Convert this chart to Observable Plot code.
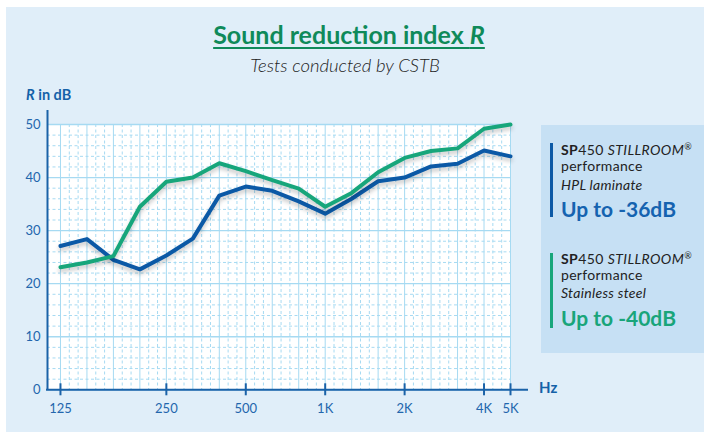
<!DOCTYPE html>
<html><head><meta charset="utf-8">
<script src="https://cdn.jsdelivr.net/npm/d3@7"></script>
<script src="https://cdn.jsdelivr.net/npm/@observablehq/plot@0.6"></script>
<style>
html,body{margin:0;padding:0;background:#fff;}
body{width:704px;height:432px;position:relative;overflow:hidden;font-family:Lato,"Open Sans",sans-serif;}
#panel{position:absolute;left:6px;top:7px;width:698px;height:425px;background:#e0eef9;}
.abs{position:absolute;white-space:nowrap;}
#title{left:0;width:698px;text-align:center;top:21.8px;font-size:25px;line-height:25px;font-weight:700;color:#0f8a5a;text-decoration:underline;text-underline-offset:3px;text-decoration-thickness:1.5px;}
#subtitle{left:0;width:690px;text-align:center;top:55.6px;font-size:18.5px;line-height:18.5px;font-style:italic;font-weight:300;color:#222;}
#ylabel{left:26px;top:88px;font-size:14.5px;line-height:14.5px;font-weight:700;color:#1461a8;}
#hz{left:539px;top:380.4px;font-size:15px;line-height:15px;font-weight:700;color:#1461a8;}
#chart{position:absolute;left:0;top:80px;}
#legend{position:absolute;left:541px;top:125px;}
</style></head>
<body>
<div id="panel"></div>
<div id="title" class="abs">Sound reduction index <i>R</i></div>
<div id="subtitle" class="abs">Tests conducted by CSTB</div>
<div id="ylabel" class="abs"><i>R</i> in dB</div>
<div id="hz" class="abs">Hz</div>
<div id="chart"></div>
<svg id="legend" width="163" height="228" font-family="Lato, 'Open Sans', sans-serif">
  <rect width="163" height="228" fill="#c6e0f4"></rect>
  <rect x="9" y="18" width="3" height="74" fill="#0b59a6"></rect>
  <text x="20" y="30" font-size="14" letter-spacing="0.4" fill="#222"><tspan font-weight="700">SP</tspan>450 <tspan font-style="italic">STILLROOM</tspan><tspan font-size="9" dy="-5">®</tspan></text>
  <text x="20" y="46" font-size="14" letter-spacing="0.3" fill="#222">performance</text>
  <text x="20" y="65" font-size="14" letter-spacing="0.3" fill="#222" font-style="italic">HPL laminate</text>
  <text x="20" y="92" font-size="21" fill="#1563b0" font-weight="700">Up to -36dB</text>
  <rect x="9" y="128" width="3" height="75" fill="#17a67b"></rect>
  <text x="20" y="138.5" font-size="14" letter-spacing="0.4" fill="#222"><tspan font-weight="700">SP</tspan>450 <tspan font-style="italic">STILLROOM</tspan><tspan font-size="9" dy="-5">®</tspan></text>
  <text x="20" y="154.5" font-size="14" letter-spacing="0.3" fill="#222">performance</text>
  <text x="20" y="173" font-size="14" letter-spacing="0.3" fill="#222" font-style="italic">Stainless steel</text>
  <text x="20" y="201" font-size="21" fill="#19a57a" font-weight="700">Up to -40dB</text>
</svg>
<script>
const bands = ["100","125","160","200","250","315","400","500","630","800","1000","1250","1600","2000","2500","3150","4000","5000"];
const hplLaminate = [27.1,28.4,24.5,22.7,25.3,28.5,36.6,38.3,37.5,35.5,33.2,36.0,39.3,40.0,42.1,42.6,45.1,44.0];
const stainlessSteel = [23.1,24.0,25.2,34.5,39.2,40.0,42.7,41.2,39.5,37.9,34.5,37.1,41.0,43.7,45.0,45.5,49.2,50.0];
const tickBands = ["100","250","500","1000","2000","4000","5000"];
const tickLabels = ["125","250","500","1K","2K","4K","5K"];
const yTicks = [0,10,20,30,40,50];

const blue = "#0b59a6", green = "#17a67b", axisColor = "#1a62a8", gridColor = "#a6daf2";
const idx = bands.map((_, i) => i);
const tickIdx = tickBands.map(b => bands.indexOf(b));
const rows = s => bands.map((b, i) => ({i, band: b, v: s[i]}));
const minorX = idx.slice(0, -1).flatMap(i => [i + 1/3, i + 2/3]);
const minorY = d3.range(0, 50, 2).filter(v => v % 10 !== 0);
const xDomain = [-0.49, bands.length - 1];

const chart = Plot.plot({
  width: 704, height: 352,
  marginLeft: 47, marginRight: 194, marginTop: 44, marginBottom: 42.7,
  x: {type: "linear", domain: xDomain},
  y: {domain: [0, 50]},
  style: {background: "transparent", overflow: "visible", color: "#2366ad", fontFamily: "Lato, sans-serif"},
  marks: [
    Plot.frame({fill: "white", stroke: null}),
    Plot.ruleX(minorX, {stroke: gridColor, strokeDasharray: "3,2.5"}),
    Plot.ruleY(minorY, {stroke: gridColor, strokeDasharray: "3,2.5"}),
    Plot.ruleX(idx, {stroke: gridColor}),
    Plot.ruleY(yTicks, {stroke: gridColor, strokeWidth: 1.3}),
    Plot.lineY(rows(hplLaminate), {x: "i", y: "v", stroke: blue, strokeWidth: 4, strokeLinejoin: "round"}),
    Plot.lineY(rows(stainlessSteel), {x: "i", y: "v", stroke: green, strokeWidth: 4, strokeLinejoin: "round"}),
    Plot.ruleX([xDomain[0]], {stroke: axisColor, strokeWidth: 2, insetTop: -14}),
    Plot.ruleY([0], {stroke: axisColor, strokeWidth: 2, insetLeft: -1, insetRight: -18}),
    Plot.ruleX(tickIdx, {y1: 0, y2: 0, insetTop: -6, insetBottom: -6, stroke: axisColor, strokeWidth: 2}),
    Plot.axisX(tickIdx, {tickSize: 0, tickPadding: 13.5, fontSize: 13, label: null, tickFormat: d => tickLabels[tickIdx.indexOf(d)]}),
    Plot.axisY(yTicks, {tickSize: 0, tickPadding: 7, fontSize: 13, label: null})
  ]
});
chart.querySelectorAll('g[aria-label="line"]').forEach(g => g.style.filter = "drop-shadow(0px 3px 2px rgba(0,0,0,0.22))");
document.getElementById("chart").appendChild(chart);
</script>
</body></html>
